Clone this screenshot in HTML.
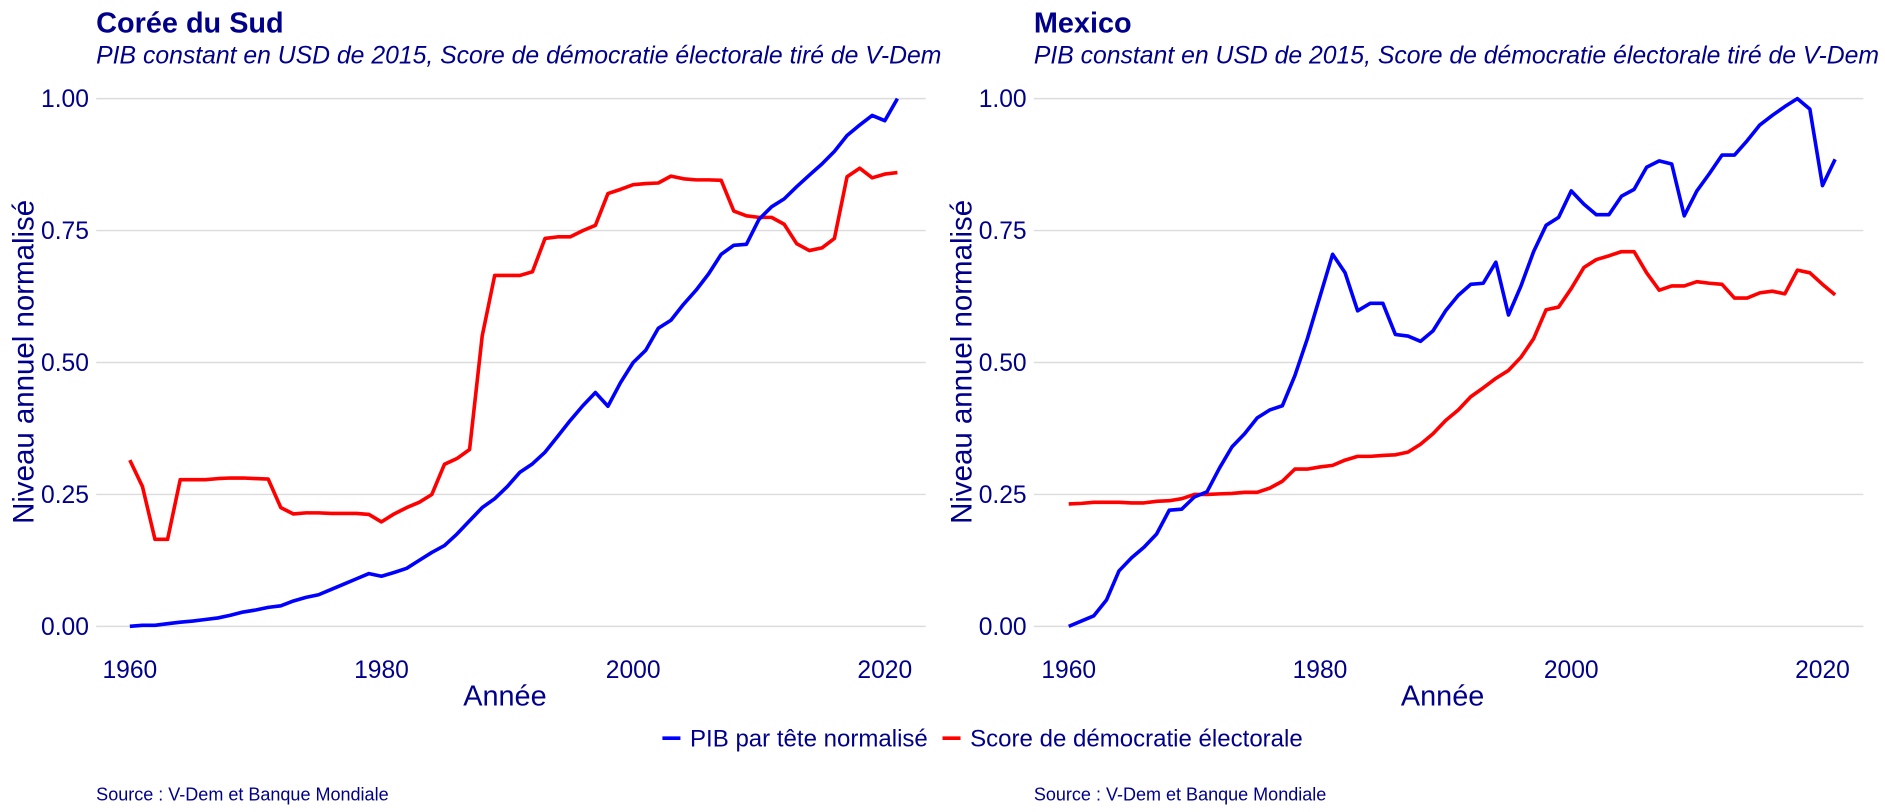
<!DOCTYPE html>
<html><head><meta charset="utf-8">
<style>
body{margin:0;background:#fff;overflow:hidden;}
svg{display:block;}
svg text{font-family:"Liberation Sans",sans-serif;}
</style></head>
<body>
<svg id="chart" width="1885" height="812" viewBox="0 0 1568 675.4" xmlns="http://www.w3.org/2000/svg"></svg>
<script>
const years = [];
for (let y = 1960; y <= 2021; y++) years.push(y);
const yTicks = [0, 0.25, 0.5, 0.75, 1.0];
const yTickLabels = ["0.00", "0.25", "0.50", "0.75", "1.00"];
const xTicks = [1960, 1980, 2000, 2020];
const korGdp = [0,.002,.002,.005,.008,.01,.013,.016,.021,.027,.031,.036,.039,.048,.055,.06,.07,.08,.09,.1,.095,.102,.11,.125,.14,.153,.175,.2,.225,.242,.265,.292,.308,.33,.36,.39,.418,.443,.417,.462,.5,.523,.565,.58,.61,.637,.668,.705,.722,.724,.771,.795,.81,.833,.855,.876,.9,.93,.95,.968,.958,1.0];
const korDem = [.315,.265,.165,.165,.278,.278,.278,.28,.281,.281,.28,.279,.225,.213,.215,.215,.214,.214,.214,.212,.198,.213,.225,.235,.25,.307,.318,.335,.55,.665,.665,.665,.672,.735,.738,.738,.75,.76,.82,.828,.837,.839,.84,.853,.848,.846,.846,.845,.787,.778,.775,.775,.762,.725,.712,.717,.735,.852,.868,.85,.857,.86];
const mexGdp = [0,.01,.02,.05,.105,.13,.15,.175,.22,.222,.245,.255,.3,.34,.365,.395,.41,.418,.475,.545,.625,.705,.67,.598,.612,.612,.553,.55,.54,.56,.598,.627,.648,.65,.69,.59,.645,.71,.76,.775,.825,.8,.78,.78,.815,.828,.87,.882,.876,.778,.825,.858,.893,.893,.92,.95,.968,.985,1.0,.98,.835,.885];
const mexDem = [.232,.233,.235,.235,.235,.234,.234,.237,.238,.242,.25,.25,.251,.252,.254,.254,.262,.275,.298,.298,.302,.305,.315,.322,.322,.324,.325,.33,.345,.365,.39,.41,.435,.452,.47,.485,.51,.545,.6,.605,.64,.68,.695,.702,.71,.71,.67,.637,.645,.645,.653,.65,.648,.622,.622,.632,.635,.63,.675,.67,.648,.628];

const NS = "http://www.w3.org/2000/svg";
const svg = document.getElementById('chart');
const NAVY = "#00008B";
function mk(tag, attrs, parent, text) {
  const e = document.createElementNS(NS, tag);
  for (const k in attrs) e.setAttribute(k, attrs[k]);
  if (text !== undefined) e.textContent = text;
  (parent || svg).appendChild(e);
  return e;
}
function panel(p) {
  const g = mk('g', {});
  
  
  const xs = v => p.x1960 + (v - 1960) * (p.x2020 - p.x1960) / 60;
  const ys = v => 521 - v * 439;
  let t = mk('text', {x: p.left, y: 27, 'font-size': 24, 'font-weight': 'bold', fill: NAVY}, g, p.title);
  
  
  t = mk('text', {x: p.left, y: 53, 'font-size': 20.6, 'font-style': 'italic', fill: NAVY}, g, "PIB constant en USD de 2015, Score de démocratie électorale tiré de V-Dem");
  
  
  yTicks.forEach((v, i) => {
    const gl = mk('line', {x1: p.left, x2: p.left + 690, y1: ys(v), y2: ys(v), stroke: '#dcdcdc', 'stroke-width': 1.2}, g);
    
    
    const tl = mk('text', {x: p.left - 6, y: ys(v) + 7, 'font-size': 20.5, fill: NAVY, 'text-anchor': 'end'}, g, yTickLabels[i]);
    
    
  });
  xTicks.forEach(v => {
    const tl = mk('text', {x: xs(v), y: 564, 'font-size': 20.5, fill: NAVY, 'text-anchor': 'middle'}, g, String(v));
    
    
  });
  t = mk('text', {x: (p.left + p.left + 690) / 2 - 5, y: 587, 'font-size': 24, fill: NAVY, 'text-anchor': 'middle'}, g, "Année");
  
  
  t = mk('text', {x: 0, y: 0, 'font-size': 24.5, fill: NAVY, 'text-anchor': 'middle', transform: `translate(${p.left - 52},301) rotate(-90)`}, g, "Niveau annuel normalisé");
  
  
  [[p.dem, '#ff0000', 'democracy-line'], [p.gdp, '#0000ff', 'gdp-line']].forEach(([arr, col, nm]) => {
    const d = arr.map((v, i) => (i ? 'L' : 'M') + xs(years[i]).toFixed(1) + ',' + ys(v).toFixed(1)).join(' ');
    const pl = mk('path', {d: d, fill: 'none', stroke: col, 'stroke-width': 3, 'stroke-linejoin': 'round'}, g);
    
    
  });
  t = mk('text', {x: p.left, y: 666, 'font-size': 15, fill: NAVY}, g, "Source : V-Dem et Banque Mondiale");
  
  
}
panel({name: 'korea-panel', title: 'Corée du Sud', left: 80, x1960: 108, x2020: 736, gdp: korGdp, dem: korDem});
panel({name: 'mexico-panel', title: 'Mexico', left: 860, x1960: 889, x2020: 1516, gdp: mexGdp, dem: mexDem});

const lg = mk('g', {});


let e = mk('line', {x1: 551, x2: 566, y1: 614, y2: 614, stroke: '#0000ff', 'stroke-width': 3}, lg);


e = mk('text', {x: 574, y: 621, 'font-size': 20, fill: NAVY}, lg, "PIB par tête normalisé");


e = mk('line', {x1: 784, x2: 799, y1: 614, y2: 614, stroke: '#ff0000', 'stroke-width': 3}, lg);


e = mk('text', {x: 807, y: 621, 'font-size': 20, fill: NAVY}, lg, "Score de démocratie électorale");


</script>
</body></html>
